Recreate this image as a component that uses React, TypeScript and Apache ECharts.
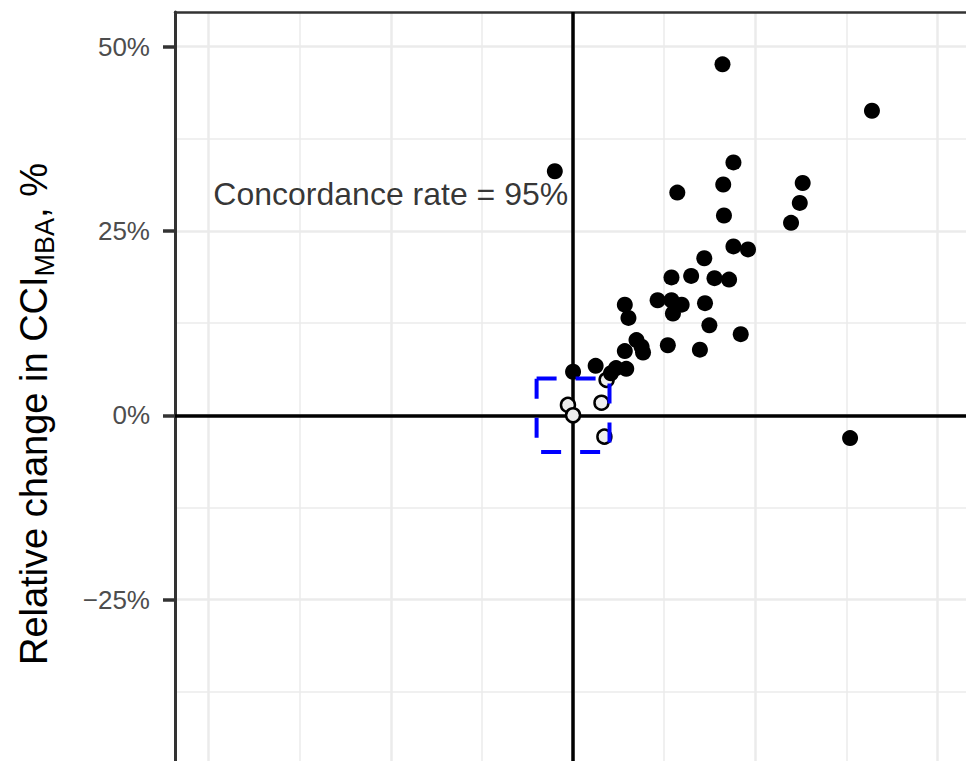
import React, { useEffect, useRef } from "react";
import * as echarts from "echarts";

// ---- data (in %) ----
const xMajorTicks = [-50, -25, 0, 25, 50];
const xMinorTicks = [-37.5, -12.5, 12.5, 37.5];
const yMajorTicks = [-25, 0, 25, 50];
const yMinorTicks = [-37.5, -12.5, 12.5, 37.5];
const yTickLabels = ["\u221225%", "0%", "25%", "50%"];

const xRange = [-54.6, 53.9];
const yRange = [-46.9, 54.7];

// points outside the ±5% zone (filled)
const outsideZonePoints: [number, number][] = [
  [-2.5, 33.1], [20.5, 47.6], [41.0, 41.3], [14.3, 30.2], [20.6, 31.3],
  [22.0, 34.3], [31.5, 31.5], [31.1, 28.8], [29.9, 26.1], [20.7, 27.1],
  [22.0, 22.9], [24.0, 22.5], [18.0, 21.3], [13.5, 18.7], [16.2, 18.9],
  [19.4, 18.6], [21.4, 18.4], [11.6, 15.6], [13.5, 15.6], [14.9, 15.0],
  [13.7, 13.8], [18.1, 15.2], [7.1, 15.0], [7.6, 13.2], [18.7, 12.2],
  [23.0, 11.0], [13.0, 9.5], [17.4, 8.9], [8.7, 10.2], [9.4, 9.3],
  [7.1, 8.7], [9.6, 8.5], [7.3, 6.3], [5.9, 6.4], [5.2, 5.7],
  [3.1, 6.7], [0.0, 5.9], [38.0, -3.1],
];

// points inside the ±5% zone (open)
const insideZonePoints: [number, number][] = [
  [4.6, 4.8], [-0.7, 1.4], [0.0, 0.0], [3.9, 1.7], [4.3, -2.9],
];

// zone box: xmin, xmax, ymin, ymax
const zoneBox = [[-5, 5, -5, 5]];

// annotation
const annotationPoint = [[-25, 30]];
const annotationText = "Concordance rate = 95%";

const FONT = "'Liberation Sans', Arial, Helvetica, sans-serif";

export default function App() {
  const ref = useRef<HTMLDivElement>(null);

  useEffect(() => {
    if (!ref.current) return;
    const chart = echarts.init(ref.current, undefined, { renderer: "svg" });

    const gridColor = "#EBEBEB";
    const borderColor = "#333333";

    const option: any = {
      animation: false,
      backgroundColor: "#ffffff",
      grid: {
        left: 175,
        top: 12,
        right: 0,
        bottom: 0,
        containLabel: false,
        outerBoundsMode: "none",
      },
      xAxis: [
        {
          type: "value",
          min: xRange[0],
          max: xRange[1],
          position: "top",
          axisLine: { show: true, onZero: false, lineStyle: { color: borderColor, width: 2.5 } },
          axisTick: { show: false, customValues: xMajorTicks },
          axisLabel: { show: false, customValues: xMajorTicks },
          splitLine: { show: true, lineStyle: { color: gridColor, width: 2.5 } },
        },
        {
          type: "value",
          min: xRange[0],
          max: xRange[1],
          position: "bottom",
          axisLine: { show: false },
          axisTick: { show: false, customValues: xMinorTicks },
          axisLabel: { show: false, customValues: xMinorTicks },
          splitLine: { show: true, lineStyle: { color: gridColor, width: 1.5 } },
        },
      ],
      yAxis: [
        {
          type: "value",
          min: yRange[0],
          max: yRange[1],
          position: "left",
          axisLine: { show: true, onZero: false, lineStyle: { color: borderColor, width: 3 } },
          axisTick: {
            show: true,
            length: 12,
            lineStyle: { color: borderColor, width: 3.5 },
            customValues: yMajorTicks,
          },
          axisLabel: {
            show: true,
            customValues: yMajorTicks,
            formatter: (v: number) => {
              const i = yMajorTicks.indexOf(Math.round(v * 10) / 10);
              return i >= 0 ? yTickLabels[i] : "";
            },
            color: "#4D4D4D",
            fontSize: 26,
            fontFamily: FONT,
            margin: 25,
          },
          splitLine: { show: true, lineStyle: { color: gridColor, width: 2.5 } },
        },
        {
          type: "value",
          min: yRange[0],
          max: yRange[1],
          position: "right",
          axisLine: { show: false },
          axisTick: { show: false, customValues: yMinorTicks },
          axisLabel: { show: false, customValues: yMinorTicks },
          splitLine: { show: true, lineStyle: { color: gridColor, width: 1.5 } },
        },
      ],
      series: [
        {
          name: "zero",
          type: "line",
          data: [],
          xAxisIndex: 0,
          yAxisIndex: 0,
          markLine: {
            silent: true,
            symbol: ["none", "none"],
            label: { show: false },
            lineStyle: { color: "#000000", width: 3.5, type: "solid", opacity: 1 },
            data: [{ xAxis: 0 }, { yAxis: 0 }],
          },
        },
        {
          name: "inside",
          type: "scatter",
          xAxisIndex: 0,
          yAxisIndex: 0,
          z: 10,
          symbol: "circle",
          symbolSize: 14,
          itemStyle: { color: "#eeeeee", borderColor: "#000000", borderWidth: 2.5, opacity: 1 },
          data: insideZonePoints,
        },
        {
          name: "outside",
          type: "scatter",
          xAxisIndex: 0,
          yAxisIndex: 0,
          z: 11,
          symbol: "circle",
          symbolSize: 16,
          itemStyle: { color: "#000000", opacity: 1 },
          data: outsideZonePoints,
        },
        {
          name: "zone",
          type: "custom",
          xAxisIndex: 0,
          yAxisIndex: 0,
          z: 12,
          silent: true,
          encode: { x: [0, 1], y: [2, 3] },
          data: zoneBox,
          renderItem: (params: any, api: any) => {
            const p1 = api.coord([api.value(0), api.value(3)]);
            const p2 = api.coord([api.value(1), api.value(2)]);
            return {
              type: "rect",
              shape: { x: p1[0], y: p1[1], width: p2[0] - p1[0], height: p2[1] - p1[1] },
              style: { fill: "none", stroke: "#0000FF", lineWidth: 4, lineDash: [20, 19] },
            };
          },
        },
        {
          name: "annotation",
          type: "scatter",
          xAxisIndex: 0,
          yAxisIndex: 0,
          z: 9,
          silent: true,
          symbolSize: 1,
          itemStyle: { color: "rgba(0,0,0,0)" },
          label: {
            show: true,
            position: "inside",
            formatter: () => annotationText,
            color: "#000000",
            fontSize: 32,
            fontFamily: FONT,
          },
          data: annotationPoint,
        },
      ],
      graphic: [
        {
          type: "text",
          x: 34,
          y: 414,
          rotation: Math.PI / 2,
          silent: true,
          style: {
            text: "{a|Relative change in CCI}{s|MBA}{a|, %}",
            align: "center",
            verticalAlign: "middle",
            fill: "#000000",
            rich: {
              a: { fontSize: 38, fontFamily: FONT, fill: "#000000", lineHeight: 48, verticalAlign: "middle" },
              s: { fontSize: 27, fontFamily: FONT, fill: "#000000", verticalAlign: "bottom" },
            },
          },
        },
      ],
    };

    chart.setOption(option);
    return () => chart.dispose();
  }, []);

  return (
    <div
      ref={ref}
      style={{ position: "fixed", left: 0, top: 0, width: 966, height: 761, background: "#fff" }}
    />
  );
}
